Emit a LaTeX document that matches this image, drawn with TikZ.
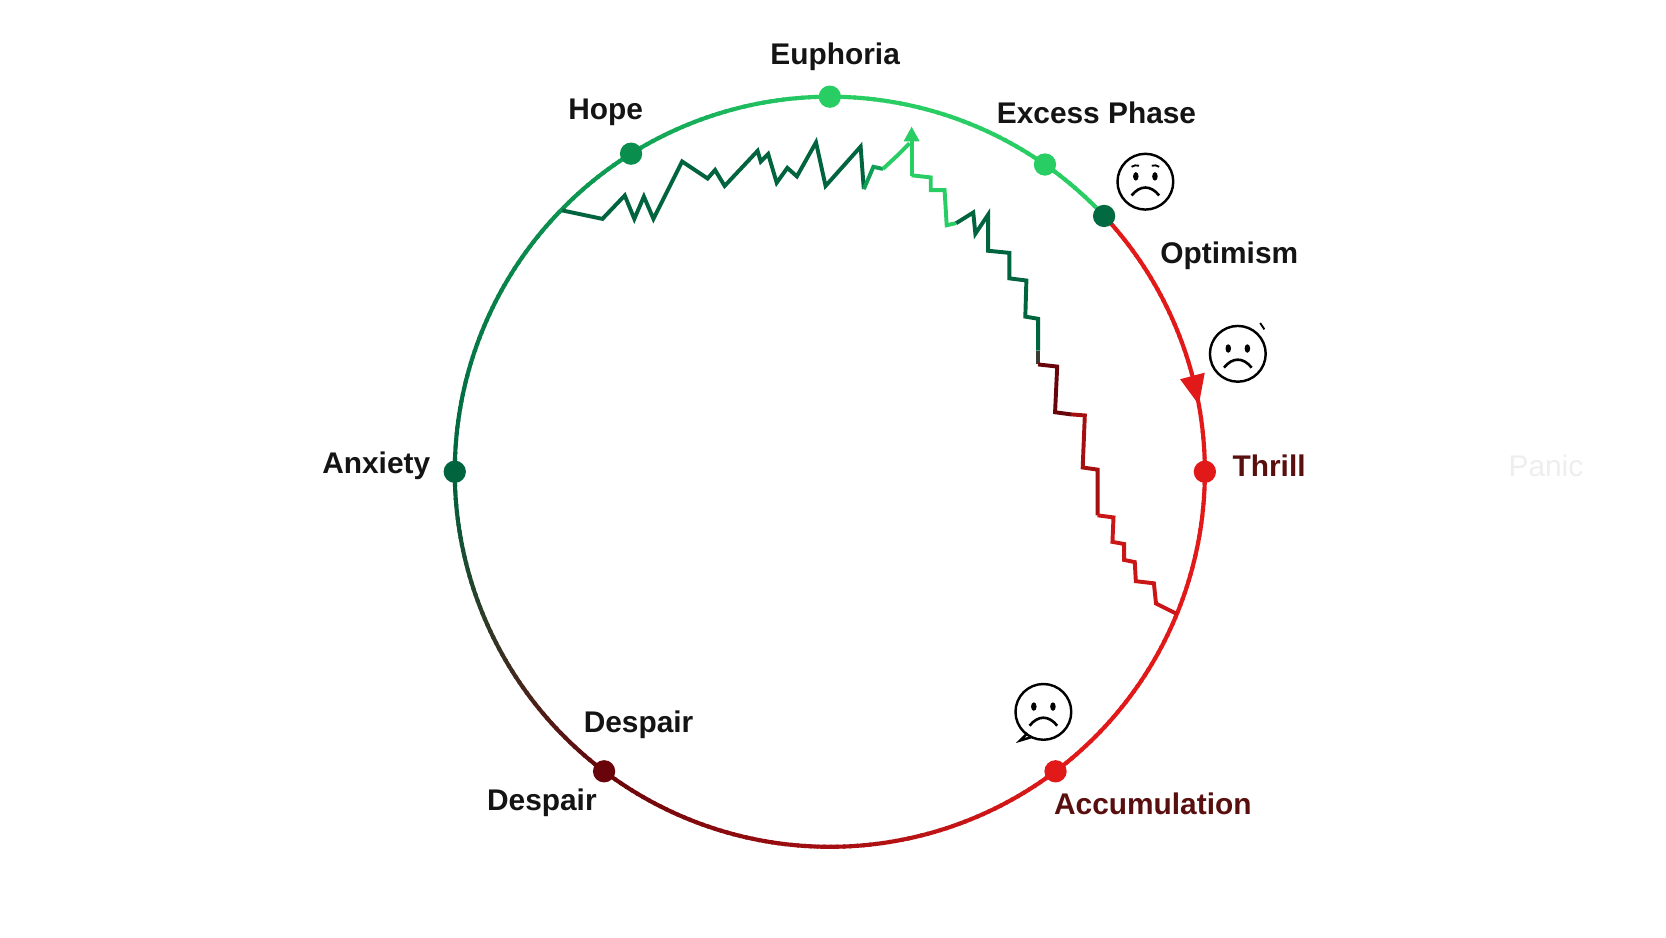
\documentclass[tikz,border=0pt]{standalone}
\usepackage{fontspec}
\setmainfont{Liberation Sans}
\usetikzlibrary{arrows.meta,calc}
\definecolor{dg}{RGB}{0,100,62}
\definecolor{mg}{RGB}{15,160,85}
\definecolor{lg}{RGB}{40,205,100}
\definecolor{dr}{RGB}{105,5,10}
\definecolor{rr}{RGB}{225,25,25}
\definecolor{mr}{RGB}{165,15,15}
\definecolor{gm}{RGB}{60,60,50}
\definecolor{lab}{RGB}{20,20,20}
\definecolor{labr}{RGB}{90,15,15}
\definecolor{faint}{RGB}{238,238,238}
\tikzset{
 dot/.style={circle,inner sep=0pt,minimum size=0.42cm},
 lbl/.style={font=\fontsize{16}{19}\selectfont\bfseries,text=lab,inner sep=1pt},
 ring/.style={line width=2.2pt},
 zz/.style={line width=2.1pt,line join=miter},
 face/.style={line width=1.3pt,draw=black},
 eye/.style={fill=black,draw=none}
}
\newcommand\gradarc[4]{%
 \pgfmathtruncatemacro\mylast{#2-1}%
 \foreach \a in {#1,...,\mylast}{%
  \pgfmathsetmacro\p{100-100*(\a-#1)/(#2-#1)}%
  \draw[ring,color=#3!\p!#4] ($(C)+(-\a:353)$) arc[start angle=-\a,end angle=-\a-1.3,radius=353];}}
\newcommand\myface[3]{% name, x, y
 \node[circle,draw=black,line width=1.3pt,minimum size=1.05cm,inner sep=0pt] (#1) at (#2,#3) {};
 \fill[eye] (#2-9,#3-5) ellipse (2.6 and 4);
 \fill[eye] (#2+9,#3-5) ellipse (2.6 and 4);
 \draw[line width=1.4pt] (#2-13,#3+13) .. controls (#2-5,#3+3) and (#2+5,#3+3) .. (#2+13,#3+13);}
\begin{document}
\begin{tikzpicture}[x=0.02cm,y=-0.02cm]
\useasboundingbox (0,0) rectangle (1568,882);
\fill[white] (0,0) rectangle (1568,882);
\coordinate (C) at (781,444);
% ring
\gradarc{43}{90}{lg}{lg}
\gradarc{90}{122}{lg}{mg}
\gradarc{122}{180}{mg}{dg}
\gradarc{180}{233}{dg}{dr}
\gradarc{233}{307}{dr}{rr}
\gradarc{307}{403}{rr}{rr}
% arrow on ring
\fill[rr] ($(C)+(-10.3:353)$) -- ($(C)+(-14.8:341)$) -- ($(C)+(-14.8:365)$) -- cycle;
% zigzag
\draw[zz,dg] (529,198)--(567,206)--(588,184)--(597,206)--(606,185)--(615,206)--(642,152)--(666,168)--(673,160)--(682,175)--(713,142)--(716,152)--(723,145)--(731,172)--(741,158)--(750,166)--(768,134)--(777,175)--(810,138)--(813,178);
\draw[zz,mg] (813,178)--(822,157)--(831,159);
\draw[zz,lg] (831,159)--(846,145)--(856,135);
\draw[zz,lg,-{Triangle[length=8pt,width=8pt]}] (858,166)--(858,119);
\draw[zz,lg] (858,165)--(876,167)--(876,179)--(889,179)--(891,212)--(900,210);
\draw[zz,dg] (900,210)--(916,200)--(918,220)--(930,202)--(930,236)--(950,238)--(950,262)--(966,264)--(965,298)--(977,300)--(977,330);
\draw[zz,gm] (977,330)--(977,343);
\draw[zz,dr] (977,343)--(995,345)--(993,388)--(1008,390);
\draw[zz,mr] (1008,390)--(1021,391)--(1019,440)--(1033,442)--(1033,485);
\draw[zz,rr!90!black] (1033,485)--(1048,487)--(1047,510)--(1058,512)--(1058,527)--(1068,529)--(1069,547)--(1086,549)--(1088,568)--(1108,578);
% dots
\node[dot,fill=lg] (euph) at ($(C)+(-90:353)$) {};
\node[dot,fill=mg!70!dg] (hope) at ($(C)+(-122:353)$) {};
\node[dot,fill=lg] (exc) at ($(C)+(-55:353)$) {};
\node[dot,fill=dg!90!mg] (opt) at ($(C)+(-43:353)$) {};
\node[dot,fill=rr] (thr) at ($(C)+(0:353)$) {};
\node[dot,fill=dg] (anx) at ($(C)+(-180:353)$) {};
\node[dot,fill=dr] (desp) at ($(C)+(-233:353)$) {};
\node[dot,fill=rr] (acc) at ($(C)+(-307:353)$) {};
% labels
\node[lbl] (leuph) at (786,53) {Euphoria};
\node[lbl] (lhope) at (570,106) {Hope};
\node[lbl] (lexc) at (1032,106) {Excess Phase};
\node[lbl] (lopt) at (1157,241) {Optimism};
\node[lbl,anchor=west,text=labr] (lthr) at (1158,438) {Thrill};
\node[lbl,font=\fontsize{16}{19}\selectfont,text=faint] (lpan) at (1455,438) {Panic};
\node[lbl,anchor=east] (lanx) at (407,438) {Anxiety};
\node[lbl] (ldes1) at (601,682) {Despair};
\node[lbl] (ldes2) at (510,756) {Despair};
\node[lbl,text=labr] (lacc) at (1085,757) {Accumulation};
% faces
\myface{f1}{1078}{171}
\draw[line width=1pt] (1065,157) to[bend left=25] (1072,156);
\draw[line width=1pt] (1084,156) to[bend left=25] (1091,157);
\myface{f2}{1165}{333}
\draw[line width=1pt] (1186,304) -- (1190,310);
\myface{f3}{982}{670}
\draw[line width=1.3pt] (967,690) -- (960,697) -- (970,694);
\end{tikzpicture}
\end{document}
